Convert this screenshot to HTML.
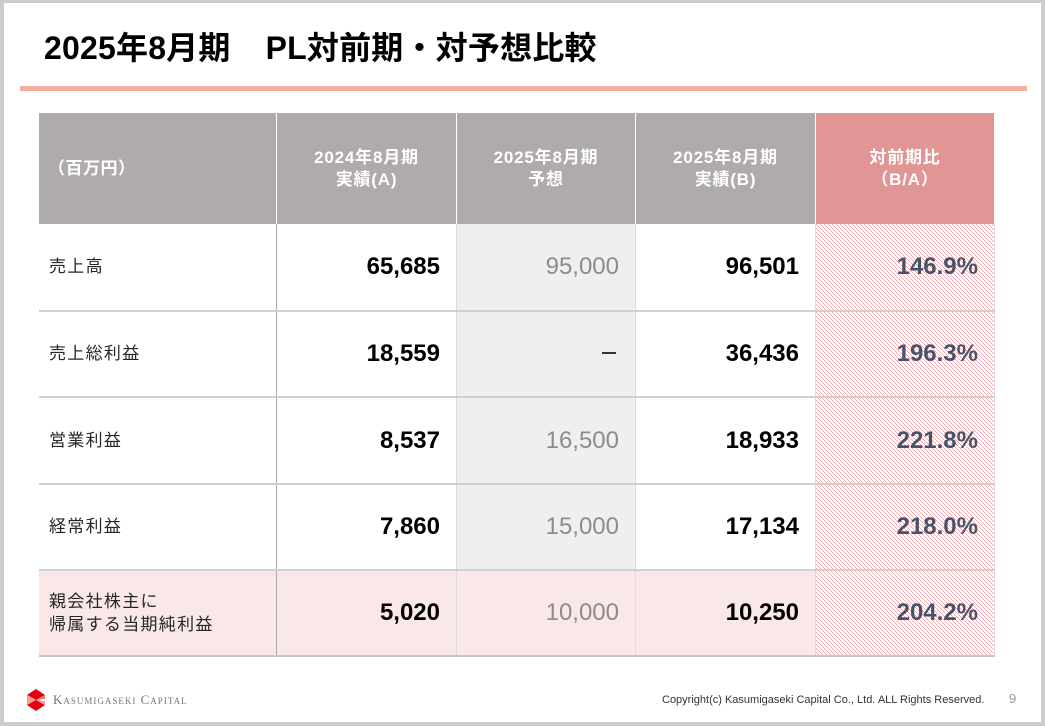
<!DOCTYPE html>
<html><head><meta charset="utf-8"><style>
*{margin:0;padding:0;box-sizing:border-box}
html,body{width:1045px;height:726px;overflow:hidden;background:#cccccc}
body{position:relative;font-family:"Liberation Sans","Noto Sans CJK JP",sans-serif}
.panel{position:absolute;left:4px;top:3px;width:1037px;height:719px;background:#fff}
.abs{position:absolute}
.title{position:absolute;left:44px;top:27px;font-size:32px;font-weight:bold;color:#000;line-height:42px;white-space:nowrap;letter-spacing:0.2px}
.hline{position:absolute;left:20px;top:86px;width:1007px;height:5px;background:#f5ae9f}
.hd{position:absolute;top:113px;height:111px;background:#afabab;color:#fff;font-size:17px;font-weight:bold;display:flex;align-items:center;justify-content:center;text-align:center;line-height:22px;letter-spacing:0.8px}
.hd.pk{background:#e29595}
.cell{position:absolute;display:flex;align-items:center;justify-content:flex-end;padding-right:16px;font-size:24px;line-height:28px}
.lab{position:absolute;left:49px;display:flex;align-items:center;font-size:17px;color:#262626;letter-spacing:1.3px;line-height:23.5px}
.b{font-weight:bold;color:#000}
.g{color:#8c8c8c}
.p{font-weight:bold;color:#44546a}
.rl{position:absolute;left:39px;width:956px;height:2px;background:#d0d0d0}
</style></head><body>
<div class="panel"></div>
<div class="title">2025年8月期<span style="display:inline-block;width:35px"></span>PL対前期・対予想比較</div>
<div class="hline"></div>

<!-- backgrounds -->
<div class="abs" style="left:457px;top:224px;width:179px;height:346px;background:#efefef"></div>
<div class="abs" style="left:39px;top:570px;width:777px;height:86px;background:#fae8e8"></div>
<svg class="abs" style="left:816px;top:224px" width="179" height="432" xmlns="http://www.w3.org/2000/svg">
<defs><pattern id="h" width="4" height="4" patternUnits="userSpaceOnUse">
<rect width="4" height="4" fill="#fff"/>
<rect x="0" y="0" width="1" height="1" fill="#f3a9b0"/>
<rect x="1" y="1" width="1" height="1" fill="#f3a9b0"/>
<rect x="2" y="2" width="1" height="1" fill="#f3a9b0"/>
<rect x="3" y="3" width="1" height="1" fill="#f3a9b0"/>
</pattern></defs>
<rect width="179" height="432" fill="url(#h)"/>
</svg>

<!-- header -->
<div class="hd" style="left:39px;width:237px;justify-content:flex-start;padding-left:9px;letter-spacing:0.5px">（百万円）</div>
<div class="hd" style="left:277px;width:179px">2024年8月期<br>実績(A)</div>
<div class="hd" style="left:457px;width:178px">2025年8月期<br>予想</div>
<div class="hd" style="left:636px;width:179px">2025年8月期<br>実績(B)</div>
<div class="hd pk" style="left:816px;width:178px">対前期比<br>（B/A）</div>

<!-- vertical lines -->
<div class="abs" style="left:276px;top:224px;width:1px;height:432px;background:#a9a9a9"></div>
<div class="abs" style="left:456px;top:224px;width:1px;height:432px;background:#dcdcdc"></div>
<div class="abs" style="left:635px;top:224px;width:1px;height:432px;background:#dcdcdc"></div>
<div class="abs" style="left:815px;top:224px;width:1px;height:432px;background:#dcdcdc"></div>
<div class="abs" style="left:994px;top:224px;width:1px;height:432px;background:#dcdcdc"></div>

<!-- row lines -->
<div class="rl" style="top:310px"></div>
<div class="rl" style="top:396px"></div>
<div class="rl" style="top:483px"></div>
<div class="rl" style="top:569px"></div>
<div class="rl" style="top:655px;background:#c6c6c6"></div>

<!-- row 1 -->
<div class="lab" style="top:224px;height:86px">売上高</div>
<div class="cell b" style="left:277px;top:224px;width:179px;height:86px">65,685</div>
<div class="cell g" style="left:457px;top:224px;width:178px;height:86px">95,000</div>
<div class="cell b" style="left:636px;top:224px;width:179px;height:86px">96,501</div>
<div class="cell p" style="left:816px;top:224px;width:178px;height:86px">146.9%</div>
<!-- row 2 -->
<div class="lab" style="top:311px;height:86px">売上総利益</div>
<div class="cell b" style="left:277px;top:311px;width:179px;height:86px">18,559</div>
<div class="abs" style="left:602px;top:352px;width:14px;height:2px;background:#333"></div>
<div class="cell b" style="left:636px;top:311px;width:179px;height:86px">36,436</div>
<div class="cell p" style="left:816px;top:311px;width:178px;height:86px">196.3%</div>
<!-- row 3 -->
<div class="lab" style="top:397px;height:87px">営業利益</div>
<div class="cell b" style="left:277px;top:397px;width:179px;height:87px">8,537</div>
<div class="cell g" style="left:457px;top:397px;width:178px;height:87px">16,500</div>
<div class="cell b" style="left:636px;top:397px;width:179px;height:87px">18,933</div>
<div class="cell p" style="left:816px;top:397px;width:178px;height:87px">221.8%</div>
<!-- row 4 -->
<div class="lab" style="top:484px;height:86px">経常利益</div>
<div class="cell b" style="left:277px;top:484px;width:179px;height:86px">7,860</div>
<div class="cell g" style="left:457px;top:484px;width:178px;height:86px">15,000</div>
<div class="cell b" style="left:636px;top:484px;width:179px;height:86px">17,134</div>
<div class="cell p" style="left:816px;top:484px;width:178px;height:86px">218.0%</div>
<!-- row 5 -->
<div class="lab" style="top:571px;height:84px">親会社株主に<br>帰属する当期純利益</div>
<div class="cell b" style="left:277px;top:571px;width:179px;height:84px">5,020</div>
<div class="cell g" style="left:457px;top:571px;width:178px;height:84px">10,000</div>
<div class="cell b" style="left:636px;top:571px;width:179px;height:84px">10,250</div>
<div class="cell p" style="left:816px;top:571px;width:178px;height:84px">204.2%</div>

<!-- footer -->
<svg class="abs" style="left:26px;top:688px" width="22" height="24" xmlns="http://www.w3.org/2000/svg">
<polygon points="1,7 10,1 19,7 10,12" fill="#e60012"/>
<polygon points="1,7 10,12 1,17" fill="#f5a08a"/>
<polygon points="10,12 19,7 19,11" fill="#f07a6a"/>
<polygon points="1,17 10,12 19,17 10,23" fill="#e60012"/>
<polygon points="10,12 19,17 19,13" fill="#f5a08a"/>
</svg>
<div class="abs" style="left:53px;top:692px;font-family:'Liberation Serif',serif;font-variant:small-caps;font-size:13px;color:#777;letter-spacing:1px;line-height:16px;white-space:nowrap">Kasumigaseki Capital</div>
<div class="abs" style="left:662px;top:693px;font-size:11px;color:#333;line-height:14px;white-space:nowrap;letter-spacing:0px">Copyright(c) Kasumigaseki Capital Co., Ltd. ALL Rights Reserved.</div>
<div class="abs" style="left:1009px;top:691px;font-size:13px;color:#999;line-height:16px">9</div>
</body></html>
